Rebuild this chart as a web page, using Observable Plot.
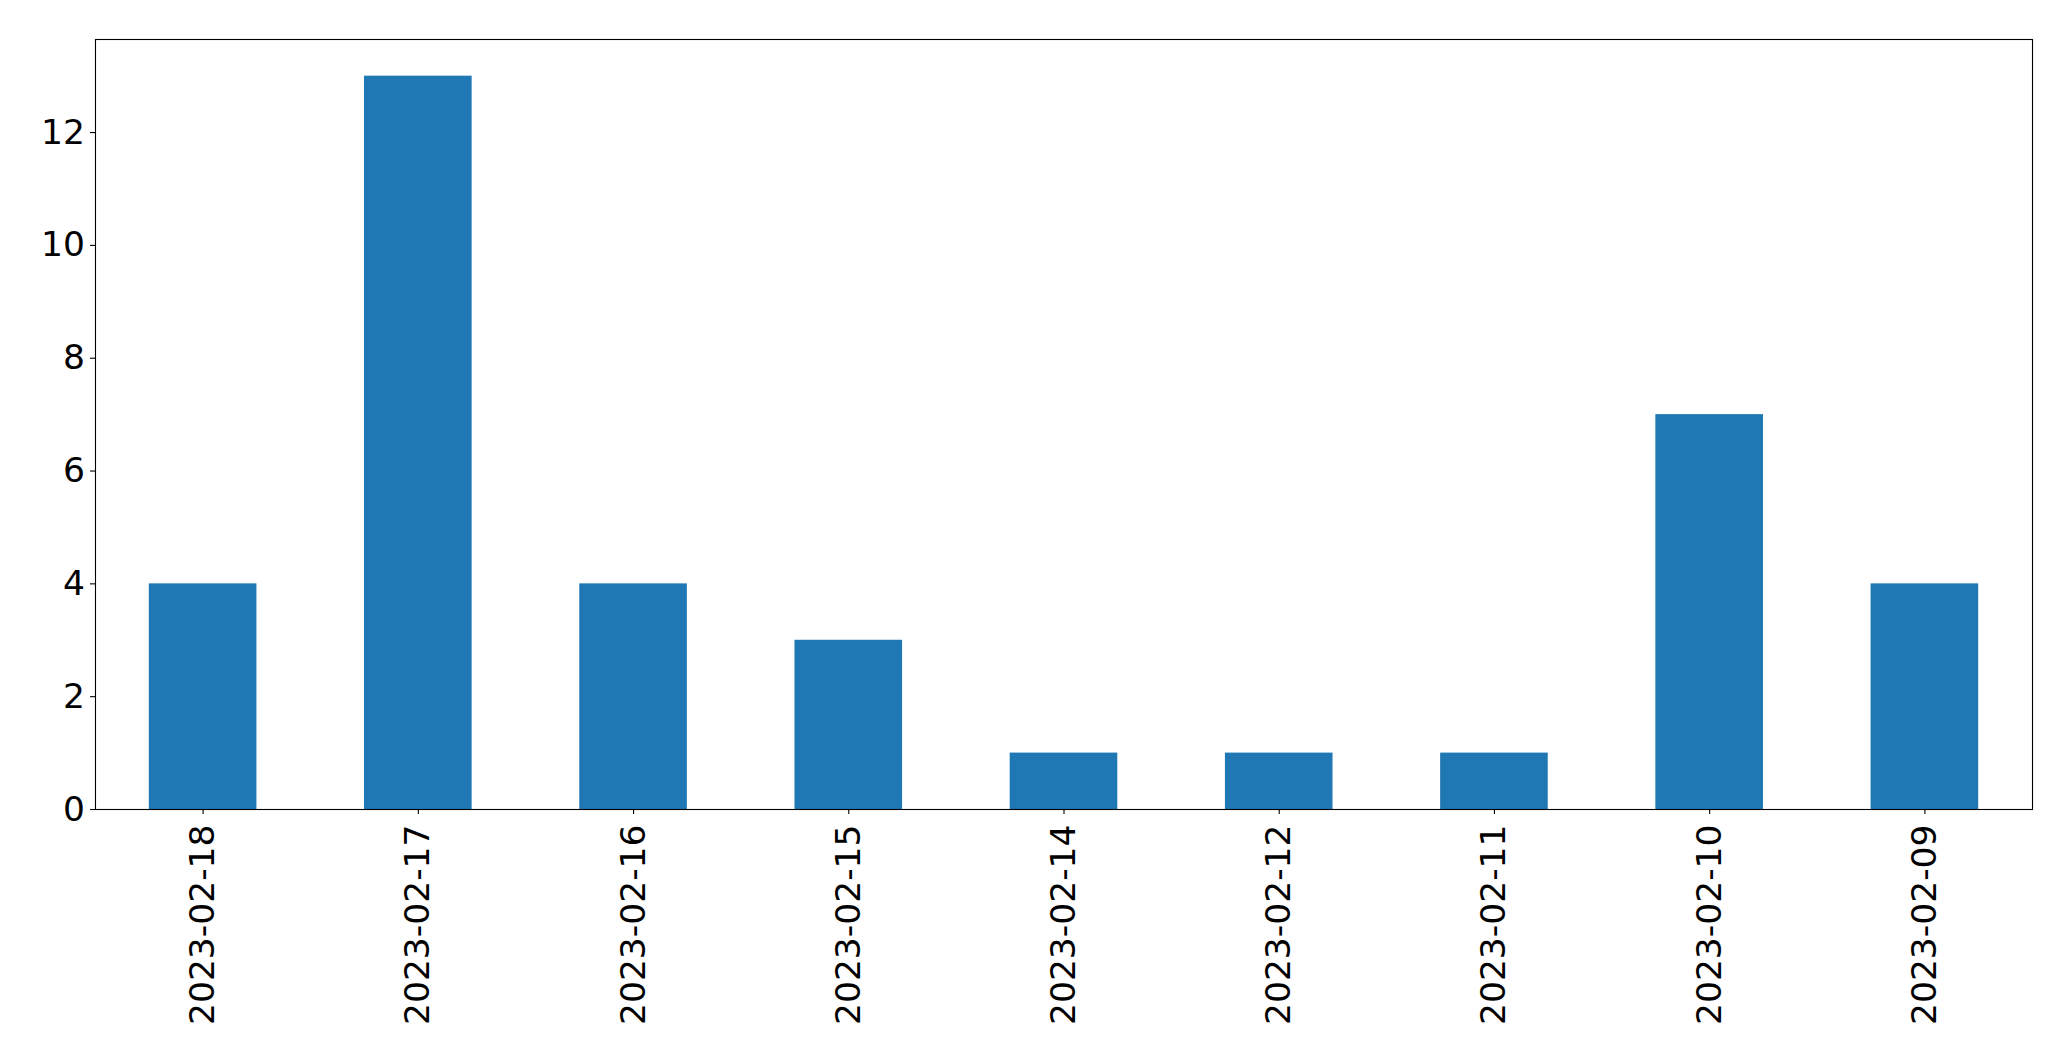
<!DOCTYPE html>
<html>
<head>
<meta charset="utf-8">
<script src="https://cdn.jsdelivr.net/npm/d3@7"></script>
<script src="https://cdn.jsdelivr.net/npm/@observablehq/plot@0.6"></script>
<style>
  html, body { margin: 0; padding: 0; background: #fff; }
  #chart svg { display: block; }
</style>
</head>
<body>
<div id="chart"></div>
<script>
const dates = ["2023-02-18","2023-02-17","2023-02-16","2023-02-15","2023-02-14","2023-02-12","2023-02-11","2023-02-10","2023-02-09"];
const counts = [4, 13, 4, 3, 1, 1, 1, 7, 4];
const yTicks = [0, 2, 4, 6, 8, 10, 12];

const data = dates.map((d, i) => ({date: d, count: counts[i]}));
const font = "DejaVu Sans, sans-serif";
const fs = 34.5;

const chart = Plot.plot({
  width: 2071,
  height: 1061,
  marginLeft: 95,
  marginRight: 39,
  marginTop: 39,
  marginBottom: 252,
  style: {fontFamily: font, fontSize: fs + "px", color: "#000", background: "#fff"},
  x: {type: "band", domain: dates, paddingInner: 0.5, paddingOuter: 0.25, round: false, label: null},
  y: {domain: [0, 13 * 1.05], label: null},
  marks: [
    Plot.barY(data, {x: "date", y: "count", fill: "#1f77b4"}),
    Plot.frame({stroke: "#000", strokeWidth: 1.1}),
    Plot.axisY({ticks: yTicks, tickSize: 5, tickPadding: 5.5, tickFormat: d => String(d), fontSize: fs, label: null, stroke: "#000", strokeWidth: 1.1}),
    Plot.axisX({tickSize: 5, tickPadding: 10, tickRotate: -90, fontSize: fs, label: null, stroke: "#000", strokeWidth: 1.1})
  ]
});
document.getElementById("chart").appendChild(chart);
</script>
</body>
</html>
